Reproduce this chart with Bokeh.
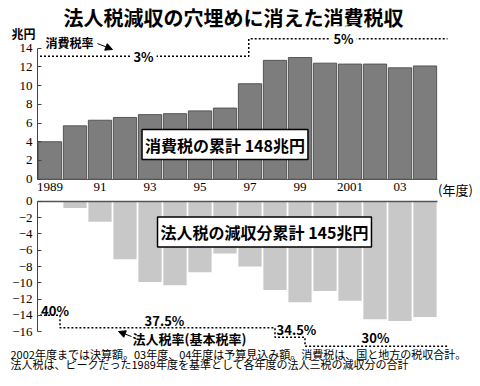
from bokeh.plotting import figure
from bokeh.models import Label, FixedTicker, Arrow, NormalHead, LinearAxis, Range1d
from bokeh.embed import file_html
from bokeh.resources import INLINE

# ---- data ----
years = list(range(1989, 2005))
consumption_tax = [4.0, 5.7, 6.3, 6.6, 6.9, 7.0, 7.3, 7.6, 10.2, 12.7, 13.0, 12.4, 12.3, 12.3, 11.9, 12.1]
corp_tax_loss = [0.0, -0.8, -2.5, -7.1, -9.9, -10.3, -8.7, -6.4, -8.0, -10.9, -12.4, -11.0, -12.2, -14.5, -14.7, -14.2]

year_ticks = [1989, 1991, 1993, 1995, 1997, 1999, 2001, 2003]
year_tick_labels = ["1989", "91", "93", "95", "97", "99", "2001", "03"]
upper_ticks = [0, 2, 4, 6, 8, 10, 12, 14]
lower_ticks = [0, -2, -4, -6, -8, -10, -12, -14, -16]
lower_tick_labels = ["0", "−2", "−4", "−6", "−8", "−10", "−12", "−14", "−16"]

# schematic tax-rate step lines
ctax_x = [1988.6, 1996.95, 1996.95, 2004.9]
ctax_y = [13.15, 13.15, 15.0, 15.0]
corp_x = [1988.6, 1989.4, 1989.4, 1998.0, 1998.0, 1999.2, 1999.2, 2004.9]
corp_y = [-14.0, -14.0, -15.55, -15.55, -16.7, -16.7, -17.8, -17.8]

title_text = "法人税減収の穴埋めに消えた消費税収"
note1 = "2002年度までは決算額。03年度、04年度は予算見込み額。消費税は、国と地方の税収合計。"
note2 = "法人税は、ピークだった1989年度を基準として各年度の法人三税の減収分の合計"

CJK = "Noto Sans CJK JP"
SERIF = "Liberation Serif"

p = figure(width=480, height=386, output_backend="svg", toolbar_location=None,
           x_range=(1987.02, 2006.22), y_range=(-22.155, 19.098),
           min_border_left=0, min_border_right=0, min_border_top=0, min_border_bottom=0)
p.extra_y_ranges = {"low": Range1d(-22.769, 24.738)}
p.outline_line_color = None
p.grid.visible = False

# bars
p.vbar(x=years, top=consumption_tax, width=0.93, fill_color="#7d7d7d", line_color="#555555", line_width=1)
p.vbar(x=years, top=corp_tax_loss, bottom=0, width=0.93, fill_color="#c8c8c8", line_color=None,
       y_range_name="low")
p.segment(x0=[years[0] - 0.5], x1=[years[-1] + 0.5], y0=[0], y1=[0], line_color="#555555",
          line_width=1.5, y_range_name="low")

def style_y(ax):
    ax.major_tick_in = 4
    ax.major_tick_out = 0
    ax.minor_tick_line_color = None
    ax.major_label_standoff = 5
    ax.axis_line_color = "#444444"
    ax.major_tick_line_color = "#444444"
    ax.major_label_text_font = SERIF
    ax.major_label_text_font_size = "13px"
    ax.major_label_text_color = "black"

# upper y axis
p.yaxis.ticker = FixedTicker(ticks=upper_ticks)
p.yaxis.bounds = (0, 14)
p.yaxis.fixed_location = years[0] - 0.5
style_y(p.yaxis[0])

# lower y axis
low_axis = LinearAxis(y_range_name="low", ticker=FixedTicker(ticks=lower_ticks),
                      major_label_overrides=dict(zip(lower_ticks, lower_tick_labels)),
                      bounds=(-16, 0), fixed_location=years[0] - 0.5)
style_y(low_axis)
p.add_layout(low_axis, "left")

# x axis (between the two panels)
p.xaxis.ticker = FixedTicker(ticks=year_ticks)
p.xaxis.major_label_overrides = dict(zip(year_ticks, year_tick_labels))
p.xaxis.bounds = (years[0] - 0.5, years[-1] + 0.5)
p.xaxis.fixed_location = 0
p.xaxis.major_tick_in = 0
p.xaxis.major_tick_out = 0
p.xaxis.minor_tick_line_color = None
p.xaxis.major_label_standoff = 4
p.xaxis.axis_line_color = "#555555"
p.xaxis.major_label_text_font = SERIF
p.xaxis.major_label_text_font_size = "13px"
p.xaxis.major_label_text_color = "black"

# tax-rate lines
p.line(ctax_x, ctax_y, line_dash="2 2", line_width=1.5, line_color="black")
p.line(corp_x, corp_y, line_dash="2 2", line_width=1.5, line_color="black", y_range_name="low")

def lab(x, y, text, size, font=CJK, bold=True, align="center", bg=None, pad=0, border=None, bw=1, rng="default"):
    kw = {}
    if bg is not None:
        kw["background_fill_color"] = bg
    if border is not None:
        kw["border_line_color"] = border
        kw["border_line_width"] = bw
    l = Label(x=x, y=y, text=text, text_font=font, text_font_size=size,
              text_font_style="bold" if bold else "normal", text_align=align,
              text_baseline="middle", text_color="black", padding=pad, y_range_name=rng, **kw)
    p.add_layout(l)
    return l

# upper annotations
lab(1996.34, 17.28, title_text, "20px")
lab(1987.94, 15.6, "兆円", "12px")
lab(1988.82, 14.62, "消費税率", "12px", align="left")
lab(1992.74, 13.15, "3%", "13px", bg="white", pad=3)
lab(2000.74, 15.0, "5%", "13px", bg="white", pad=3)
lab(1996.0, 3.7, "消費税の累計 148兆円", "16px", bg="white", pad=3, border="black", bw=1.5)
lab(2005.22, -1.1, "(年度)", "13px", bold=False)
p.add_layout(Arrow(end=NormalHead(size=7, fill_color="black", line_color="black"),
                   x_start=1990.9, y_start=14.5, x_end=1991.5, y_end=13.86,
                   line_width=1, line_color="black"))

# lower annotations
lab(1989.2, -13.42, "40%", "13px", rng="low")
lab(1993.58, -14.65, "37.5%", "13px", rng="low")
lab(1998.86, -15.75, "34.5%", "13px", rng="low")
lab(2002.02, -16.74, "30%", "13px", rng="low")
lab(1992.3, -16.8, "法人税率(基本税率)", "13px", align="left", rng="low")
lab(1997.58, -3.75, "法人税の減収分累計 145兆円", "16px", bg="white", pad=3, border="black", bw=1.5, rng="low")
p.add_layout(Arrow(end=NormalHead(size=7, fill_color="black", line_color="black"),
                   x_start=1992.26, y_start=-16.62, x_end=1991.74, y_end=-16.0,
                   line_width=1, line_color="black", y_range_name="low"))
lab(1987.42, -18.71, note1, "11px", bold=False, align="left", rng="low")
lab(1987.42, -19.94, note2, "11px", bold=False, align="left", rng="low")

open("out.html", "w").write(file_html(p, INLINE))
